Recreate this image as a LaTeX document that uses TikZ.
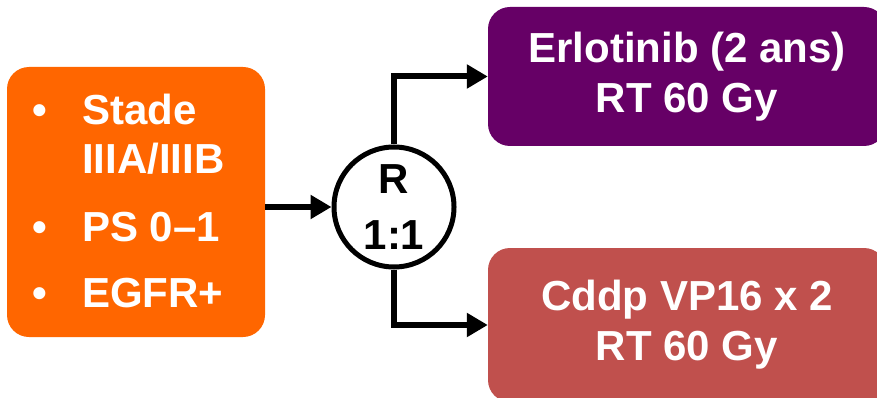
\documentclass[tikz,border=0pt]{standalone}
\usepackage{fontspec}
\setmainfont{Liberation Sans}
\usetikzlibrary{arrows.meta}
\definecolor{critorange}{HTML}{FF6600}
\definecolor{armpurple}{HTML}{660066}
\definecolor{armred}{HTML}{C0504D}

\begin{document}
\begin{tikzpicture}[x=1pt, y=-1pt,
	box/.style={rounded corners=22pt, inner sep=0pt, text=white, align=center,
		font=\fontsize{42}{50}\selectfont\bfseries},
	link/.style={line width=6pt, -{Triangle[length=21pt,width=23pt]}}]
			\useasboundingbox (0,0) rectangle (877,398);
			\clip (0,0) rectangle (877,398);
			
			\node[box, fill=critorange, minimum width=258pt, minimum height=270pt] (crit) at (136,202) {};
			\node[anchor=base west, inner sep=0pt, text=white, font=\fontsize{42}{48}\selectfont\bfseries] (critlist) at (32,125) {%
				\begin{tabular}[t]{@{}l@{}l@{}}
					\makebox[50pt][l]{\textbullet} & Stade\\
					& IIIA/IIIB\\[20pt]
					\makebox[50pt][l]{\textbullet} & PS 0--1\\[18pt]
					\makebox[50pt][l]{\textbullet} & EGFR+
				\end{tabular}};
			
			\node[circle, draw=black, line width=5pt, fill=white, minimum size=120pt, inner sep=0pt, align=center,
				font=\fontsize{42}{56}\selectfont\bfseries] (rand) at (394,207) {R\\1:1};
			
			\node[box, fill=armpurple, minimum width=398pt, minimum height=139pt] (erlo) at (687,76.5) {Erlotinib (2 ans)\\RT 60 Gy};
			\node[box, fill=armred, minimum width=398pt, minimum height=154pt] (cddp) at (687,325) {Cddp VP16 x 2\\RT 60 Gy};
			
			\draw[link] (rand.west -| crit.east) -- (rand.west);
			\draw[link] (rand.north) |- (erlo.west);
			\draw[link] (rand.south) |- (cddp.west);
		\end{tikzpicture}
\end{document}
